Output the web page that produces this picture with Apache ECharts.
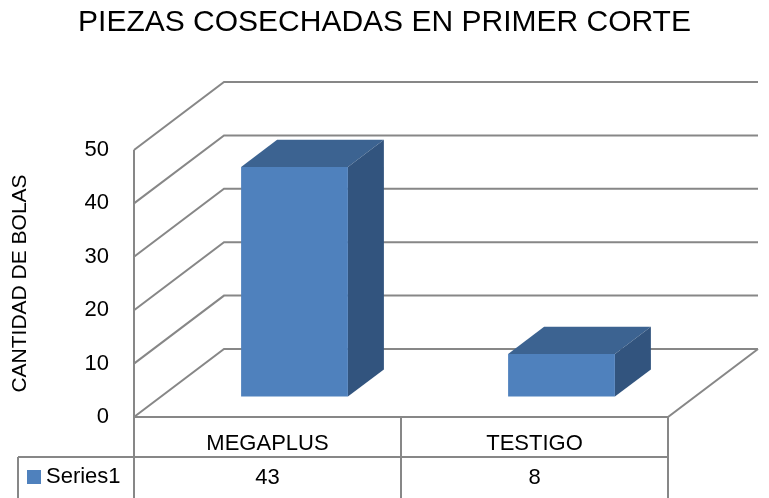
<!DOCTYPE html>
<html><head><meta charset="utf-8">
<script src="https://cdn.jsdelivr.net/npm/echarts@6/dist/echarts.min.js"></script>
<style>html,body{margin:0;padding:0;background:#fff}#c{width:769px;height:498px}</style>
</head><body><div id="c"></div>
<script>
const chartTitle = 'PIEZAS COSECHADAS EN PRIMER CORTE';
const yAxisTitle = 'CANTIDAD DE BOLAS';
const categories = ['MEGAPLUS', 'TESTIGO'];
const seriesName = 'Series1';
const values = [43, 8];
const yTicks = [0, 10, 20, 30, 40, 50];

const FONT = '"Liberation Sans", Arial, sans-serif';
const LINE = '#878787';
const LW = 2;
const FRONT = '#4F81BD', TOP = '#3C6391', SIDE = '#32547E';
const DX = 90, DY = -68;     // depth vector of the 3D floor/walls
const F1 = 0.3, F2 = 0.7;    // depth band occupied by bars
const BAR_W = 0.4;           // bar width as fraction of category band
const ROW1 = 40, ROW2 = 41;  // data table row heights
const TABLE_LEFT = 18;

const chart = echarts.init(document.getElementById('c'), null, {renderer: 'canvas'});

function seg(x1, y1, x2, y2) {
  return {type: 'line', shape: {x1, y1, x2, y2}, style: {stroke: LINE, lineWidth: LW}};
}

function wallItem(params, api) {
  const cs = params.coordSys;
  const v = api.value(1);
  const y = api.coord([0, v])[1];
  const x0 = cs.x, x1 = cs.x + cs.width;
  const children = [{
    type: 'polyline',
    shape: {points: [[x0, y], [x0 + DX, y + DY], [x1 + DX, y + DY]]},
    style: {stroke: LINE, lineWidth: LW, fill: null}
  }];
  if (v === yTicks[0]) {
    children.push({
      type: 'polyline',
      shape: {points: [[x0, y], [x1, y], [x1 + DX, y + DY]]},
      style: {stroke: LINE, lineWidth: LW, fill: null}
    });
  }
  return {type: 'group', children};
}

function barItem(params, api) {
  const i = api.value(0), v = api.value(1);
  const base = api.coord([i, 0]);
  const top = api.coord([i, v]);
  const band = api.size([1, 0])[0];
  const w = band * BAR_W;
  const ox = DX * F1, oy = DY * F1;
  const dx = DX * (F2 - F1), dy = DY * (F2 - F1);
  const l = base[0] - w / 2 + ox, r = base[0] + w / 2 + ox;
  const b = base[1] + oy, t = top[1] + oy;
  return {type: 'group', children: [
    {type: 'polygon', shape: {points: [[l, t], [r, t], [r + dx, t + dy], [l + dx, t + dy]]}, style: {fill: TOP}},
    {type: 'polygon', shape: {points: [[r, t], [r + dx, t + dy], [r + dx, b + dy], [r, b]]}, style: {fill: SIDE}},
    {type: 'rect', shape: {x: l, y: t, width: r - l, height: b - t}, style: {fill: FRONT}}
  ]};
}

function tableItem(params, api) {
  const cs = params.coordSys;
  const i = api.value(0), v = api.value(1);
  const c = api.coord([i, 0]);
  const band = api.size([1, 0])[0];
  const yb = cs.y + cs.height;
  const right = c[0] + band / 2;
  const children = [
    seg(right, yb, right, yb + ROW1 + ROW2),
    {type: 'text', x: c[0], y: yb + ROW1 + ROW2 / 2,
     style: {text: String(v), align: 'center', verticalAlign: 'middle',
             fontSize: 22, fontFamily: FONT, fill: '#000'}}
  ];
  if (i === 0) {
    children.push(seg(cs.x, cs.y, cs.x, yb + ROW1 + ROW2));
    children.push(seg(TABLE_LEFT, yb + ROW1, cs.x + cs.width, yb + ROW1));
    children.push(seg(TABLE_LEFT, yb + ROW1, TABLE_LEFT, yb + ROW1 + ROW2));
  }
  return {type: 'group', children};
}

const option = {
  animation: false,
  backgroundColor: '#fff',
  title: {
    text: chartTitle, left: 'center', top: 3,
    textStyle: {fontFamily: FONT, fontSize: 30, fontWeight: 'normal', color: '#000'}
  },
  legend: {
    data: [{name: seriesName, icon: 'rect'}],
    left: 27, top: 466, padding: 0, itemWidth: 14, itemHeight: 14,
    textStyle: {fontFamily: FONT, fontSize: 22, color: '#000'}
  },
  grid: {left: 134, top: 150, width: 534, height: 267, containLabel: false},
  xAxis: {
    type: 'category', data: categories, boundaryGap: true,
    axisLine: {show: false}, axisTick: {show: false}, splitLine: {show: false},
    axisLabel: {fontFamily: FONT, fontSize: 22, color: '#000', margin: 16}
  },
  yAxis: {
    type: 'value', min: 0, max: 50, interval: 10,
    name: yAxisTitle, nameLocation: 'middle', nameRotate: 90, nameGap: 103,
    nameTextStyle: {fontFamily: FONT, fontSize: 21, color: '#000'},
    axisLine: {show: false}, axisTick: {show: false}, splitLine: {show: false},
    axisLabel: {fontFamily: FONT, fontSize: 22, color: '#000', margin: 25}
  },
  series: [
    {type: 'custom', name: 'walls', z: 1, silent: true, renderItem: wallItem,
     encode: {x: 0, y: 1}, data: yTicks.map(v => [0, v])},
    {type: 'custom', name: 'table', z: 2, silent: true, renderItem: tableItem,
     encode: {x: 0, y: 1}, data: values.map((v, i) => [i, v])},
    {type: 'custom', name: seriesName, z: 3, renderItem: barItem,
     itemStyle: {color: FRONT},
     encode: {x: 0, y: 1}, data: values.map((v, i) => [i, v])}
  ]
};
chart.setOption(option);
</script>
</body></html>
